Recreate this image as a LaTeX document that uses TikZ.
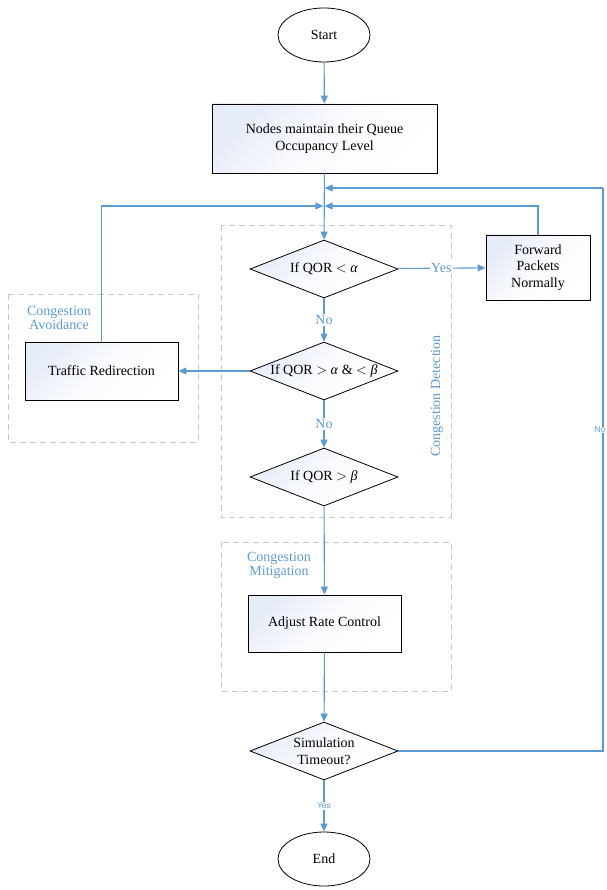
\documentclass[tikz,border=0pt]{standalone}
\usepackage{fontspec}
\setmainfont{Liberation Serif}
\setsansfont{Liberation Sans}
\usetikzlibrary{shapes.geometric,arrows.meta,calc}
\definecolor{lblue}{RGB}{91,155,213}
\definecolor{dgray}{RGB}{200,200,200}
\definecolor{fillc}{RGB}{230,236,248}
\tikzset{
  base/.style={font=\fontsize{14}{16.5}\selectfont, text=black, align=center},
  term/.style={base, ellipse, draw=black, line width=0.8pt, fill=white, minimum width=92, minimum height=54, inner sep=0pt},
  proc/.style={base, rectangle, draw=black, line width=0.8pt, top color=fillc, bottom color=white, middle color=white!80!fillc, shading angle=45, inner sep=2pt},
  dec/.style={base, diamond, draw=black, line width=0.8pt, top color=fillc, bottom color=white, middle color=white!80!fillc, shading angle=45, shape aspect=2.55, minimum width=148, minimum height=58, inner sep=0.5pt},
  flow/.style={draw=lblue, line width=1.1pt, -{Triangle[length=8pt,width=7pt]}},
  plain/.style={draw=lblue, line width=1.1pt},
  grp/.style={draw=dgray, line width=0.9pt, dash pattern=on 6pt off 4pt},
  glabel/.style={text=lblue, font=\fontsize{14}{16}\selectfont, align=center},
  blabel/.style={text=lblue, font=\fontsize{14}{16}\selectfont, fill=white, inner sep=1pt},
  slabel/.style={text=lblue, font=\sffamily\fontsize{8.5}{10}\selectfont, fill=white, inner sep=1pt},
}
\begin{document}
\begin{tikzpicture}[x=1pt,y=-1pt]
\useasboundingbox (0,0) rectangle (606,890);
% group frames
\draw[grp] (221,225) rectangle (451,517);
\draw[grp] (8,294) rectangle (198,442);
\draw[grp] (221,542) rectangle (451,691);
\node[glabel, rotate=90] (lcd) at (437,396) {Congestion Detection};
\node[glabel] (lca) at (59,318) {Congestion\\[-2pt]Avoidance};
\node[glabel] (lcm) at (279,565) {Congestion\\[-2pt]Mitigation};
% nodes
\node[term] (start) at (324,35) {Start};
\node[proc, minimum width=225, minimum height=69] (nodes) at (324.5,138.5) {Nodes maintain their Queue\\Occupancy Level};
\node[dec] (d1) at (324,269) {If QOR $<$ \textit{α}};
\node[proc, minimum width=104, minimum height=65] (fwd) at (538,267.5) {Forward\\Packets\\Normally};
\node[dec] (d2) at (324,371) {If QOR $>$ \textit{α} \& $<$ \textit{β}};
\node[proc, minimum width=153, minimum height=58] (traffic) at (101.5,371) {Traffic Redirection};
\node[dec] (d3) at (324,477) {If QOR $>$ \textit{β}};
\node[proc, minimum width=153, minimum height=57] (adjust) at (324.5,623.5) {Adjust Rate Control};
\node[dec] (sim) at (324,751) {Simulation\\Timeout?};
\node[term] (end) at (324,859) {End};
\coordinate (j1) at (324,188);
\coordinate (j2) at (324,206);
\coordinate (rc) at (603,188);
% connectors
\draw[flow] (start) -- (nodes);
\draw[flow] (nodes) -- (d1);
\draw[flow] (d1) -- node[blabel] {Yes} (fwd);
\draw[flow] (d1) -- node[blabel] {No} (d2);
\draw[flow] (d2) -- (traffic);
\draw[flow] (d2) -- node[blabel] {No} (d3);
\draw[flow] (d3) -- (adjust);
\draw[flow] (adjust) -- (sim);
\draw[flow] (sim) -- node[slabel] {Yes} (end);
\draw[flow, shorten >=0.6pt] (traffic.north) |- (j2);
\draw[flow, shorten >=0.6pt] (fwd.north) |- (j2);
\draw[plain] (sim.east) -| (rc);
\draw[flow, shorten >=0.6pt] (rc) -- (j1);
\node[slabel, anchor=east, inner sep=0.5pt] (nolbl) at (606,430) {No};
\end{tikzpicture}
\end{document}
